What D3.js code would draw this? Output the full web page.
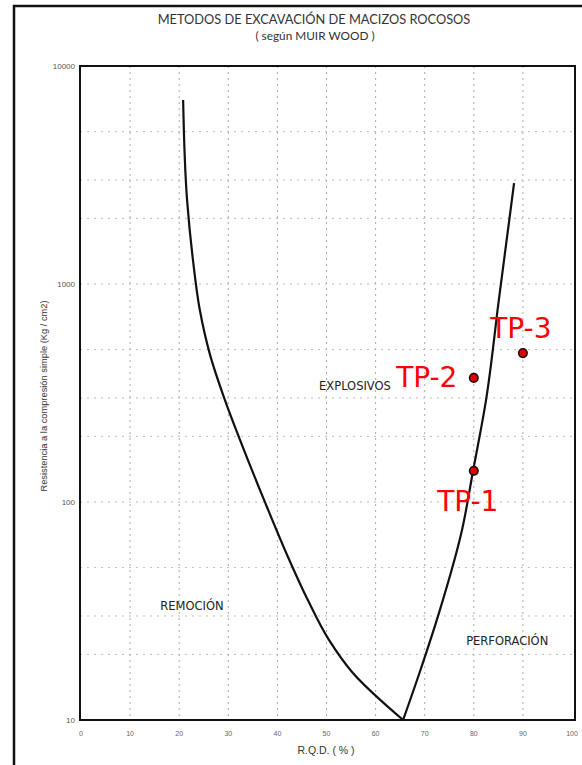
<!DOCTYPE html>
<html>
<head>
<meta charset="utf-8">
<script src="https://cdn.jsdelivr.net/npm/d3@7"></script>
<style>
  body { margin: 0; background: #fff; }
  svg { display: block; }
</style>
</head>
<body>
<script>
// curve data (RQD %, compressive strength kg/cm2)
const leftCurveRqd = [20.8, 21.6, 22.8, 24.2, 26.3, 29.3, 33.2, 37.3, 42.0, 46.2, 50.5, 55.2, 65.6]
const leftCurveRes = [6980, 2430, 1290, 760, 472, 294, 173, 102, 57, 35.5, 23.3, 16.6, 10]

const rightCurveRqd = [65.6, 69.0, 73.1, 77.6, 79.8, 82.5, 85.1, 88.2]
const rightCurveRes = [10, 16.6, 32, 74.4, 137, 294, 845, 2900]

const sampleNames = ['TP-1', 'TP-2', 'TP-3']
const sampleRqd = [80, 80, 90]
const sampleRes = [139, 371, 482]

const xTicks = [0, 10, 20, 30, 40, 50, 60, 70, 80, 90, 100]
const yTicks = [10, 100, 1000, 10000]
const yGrid = [20, 30, 50, 200, 300, 500, 2000, 3000, 5000]

const regions = [
  { name: 'EXPLOSIVOS', rqd: 55.8, res: 327 },
  { name: 'REMOCIÓN', rqd: 22.6, res: 32 },
  { name: 'PERFORACIÓN', rqd: 86.8, res: 22 }
]

const width = 582
const height = 765

const svg = d3.select('body')
  .append('svg')
  .attr('width', width)
  .attr('height', height)

// outer frame of the scanned page
svg.append('path')
  .attr('d', `M14,${height} L14,6 L${width},6`)
  .attr('fill', 'none')
  .attr('stroke', '#111')
  .attr('stroke-width', 2.5)

const x = d3.scaleLinear().domain([0, 100]).range([81, 572])
const y = d3.scaleLog().domain([10, 10000]).range([720, 66])

// faint grid of the printed paper
svg.append('g')
  .selectAll('line')
  .data(xTicks.slice(1, -1))
  .join('line')
  .attr('x1', d => x(d)).attr('x2', d => x(d))
  .attr('y1', y(10000)).attr('y2', y(10))
  .attr('stroke', '#aaa')
  .attr('stroke-width', 1)
  .attr('stroke-dasharray', '2,4')

svg.append('g')
  .selectAll('line')
  .data(yGrid.concat([100, 1000]))
  .join('line')
  .attr('x1', 80).attr('x2', 575)
  .attr('y1', d => y(d)).attr('y2', d => y(d))
  .attr('stroke', '#bbb')
  .attr('stroke-width', 1)
  .attr('stroke-dasharray', '2,5')

// plot frame
svg.append('rect')
  .attr('x', 80)
  .attr('y', y(10000))
  .attr('width', 495)
  .attr('height', y(10) - y(10000))
  .attr('fill', 'none')
  .attr('stroke', '#111')
  .attr('stroke-width', 2)

// tick labels
svg.append('g')
  .selectAll('text')
  .data(yTicks)
  .join('text')
  .attr('x', 75)
  .attr('y', d => y(d) + 3)
  .attr('text-anchor', 'end')
  .attr('font-family', 'Liberation Sans, Arial, sans-serif')
  .attr('font-size', '8px')
  .attr('fill', '#555')
  .text(d => d)

svg.append('g')
  .selectAll('text')
  .data(xTicks)
  .join('text')
  .attr('x', d => x(d))
  .attr('y', 736)
  .attr('text-anchor', 'middle')
  .attr('font-family', 'Liberation Sans, Arial, sans-serif')
  .attr('font-size', '7px')
  .attr('fill', '#666')
  .text(d => d)

// axis titles
svg.append('text')
  .attr('x', 326)
  .attr('y', 754)
  .attr('text-anchor', 'middle')
  .attr('font-family', 'Liberation Sans, Arial, sans-serif')
  .attr('font-size', '10.5px')
  .attr('fill', '#333')
  .text('R.Q.D. ( % )')

svg.append('text')
  .attr('transform', 'translate(47,396) rotate(-90)')
  .attr('text-anchor', 'middle')
  .attr('font-family', 'Liberation Sans, Arial, sans-serif')
  .attr('font-size', '9.3px')
  .attr('fill', '#333')
  .text('Resistencia a la compresión simple (Kg / cm2)')

// title
svg.append('text')
  .attr('x', 314)
  .attr('y', 24)
  .attr('text-anchor', 'middle')
  .attr('font-family', 'Lato, sans-serif')
  .attr('font-size', '12.8px')
  .attr('fill', '#333')
  .text('METODOS DE EXCAVACIÓN DE MACIZOS ROCOSOS')

svg.append('text')
  .attr('x', 315)
  .attr('y', 40)
  .attr('text-anchor', 'middle')
  .attr('font-family', 'Lato, sans-serif')
  .attr('font-size', '11.8px')
  .attr('fill', '#333')
  .text('( según MUIR WOOD )')

// boundary curves
const line = d3.line()
  .x(d => x(d[0]))
  .y(d => y(d[1]))
  .curve(d3.curveMonotoneY)

svg.append('path')
  .datum(leftCurveRqd.map((v, i) => [v, leftCurveRes[i]]))
  .attr('d', line)
  .attr('fill', 'none')
  .attr('stroke', '#111')
  .attr('stroke-width', 2.2)

// monotoneY wants ascending pixel y, so walk the right curve from the top
svg.append('path')
  .datum(rightCurveRqd.map((v, i) => [v, rightCurveRes[i]]).reverse())
  .attr('d', line)
  .attr('fill', 'none')
  .attr('stroke', '#111')
  .attr('stroke-width', 2.2)

// region names
svg.append('g')
  .selectAll('text')
  .data(regions)
  .join('text')
  .attr('x', d => x(d.rqd))
  .attr('y', d => y(d.res))
  .attr('text-anchor', 'middle')
  .attr('font-family', 'DejaVu Sans, sans-serif')
  .attr('font-size', '11.5px')
  .attr('fill', '#222')
  .text(d => d.name)

// sample points
const samples = sampleNames.map((n, i) => ({ name: n, rqd: sampleRqd[i], res: sampleRes[i] }))
const labelOffset = { 'TP-1': [-6, 40], 'TP-2': [-47, 9], 'TP-3': [-2, -15] }

svg.append('g')
  .selectAll('circle')
  .data(samples)
  .join('circle')
  .attr('cx', d => x(d.rqd))
  .attr('cy', d => y(d.res))
  .attr('r', 4.3)
  .attr('fill', '#e00000')
  .attr('stroke', '#111')
  .attr('stroke-width', 1.5)

svg.append('g')
  .selectAll('text')
  .data(samples)
  .join('text')
  .attr('x', d => x(d.rqd) + labelOffset[d.name][0])
  .attr('y', d => y(d.res) + labelOffset[d.name][1])
  .attr('text-anchor', 'middle')
  .attr('font-family', 'DejaVu Sans, Verdana, sans-serif')
  .attr('font-size', '28px')
  .attr('fill', '#ff0000')
  .text(d => d.name)
</script>
</body>
</html>
